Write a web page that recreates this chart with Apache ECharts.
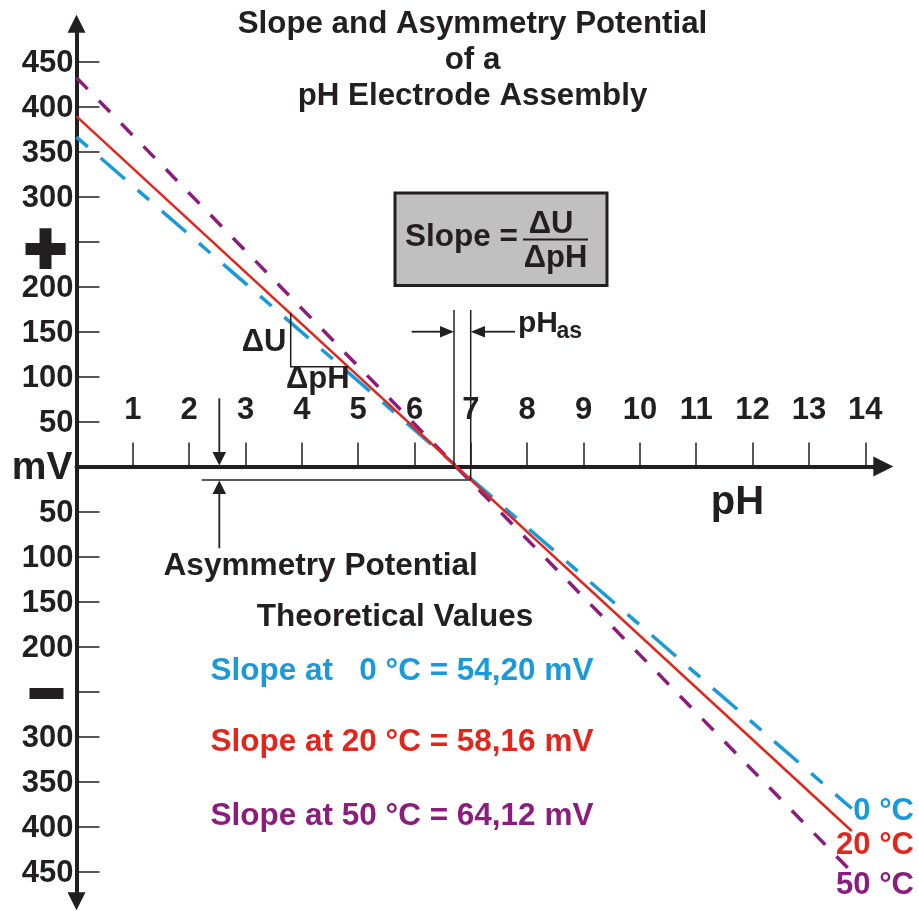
<!DOCTYPE html>
<html><head><meta charset="utf-8">
<script src="https://cdn.jsdelivr.net/npm/echarts@6/dist/echarts.min.js"></script>
<style>html,body{margin:0;padding:0;background:#fff}#c{width:919px;height:911px}</style>
</head><body><div id="c"></div>
<script>
// ---- data ----
const lineNames = ['0 °C', '20 °C', '50 °C'];
const ph0C = [0, 13.76];
const mv0C = [366, -380];
const ph20C = [0, 13.76];
const mv20C = [389, -405];
const ph50C = [0, 13.69];
const mv50C = [432, -446];
const phTicks = [1, 2, 3, 4, 5, 6, 7, 8, 9, 10, 11, 12, 13, 14];
const mvTicks = [-450, -400, -350, -300, -250, -200, -150, -100, -50, 0, 50, 100, 150, 200, 250, 300, 350, 400, 450];
const slopeTexts = ['Slope at   0 °C = 54,20 mV', 'Slope at 20 °C = 58,16 mV', 'Slope at 50 °C = 64,12 mV'];
const titleLines = ['Slope and Asymmetry Potential', 'of a', 'pH Electrode Assembly'];

const INK = '#231f20';
const BLUE = '#1a9ad8';
const RED = '#e2261c';
const PURPLE = '#8c1c7e';
const FF = '"Liberation Sans", Arial, sans-serif';

function zip(xs, ys) { return xs.map((x, i) => [x, ys[i]]); }

function txt(text, x, y, size, color, align) {
  return { type: 'text', x: x, y: y, silent: true, z: 10,
    style: { text: text, fontSize: size, fontWeight: 'bold', fontFamily: FF, fill: color || INK,
      align: align || 'left', verticalAlign: 'middle' } };
}
function seg(x1, y1, x2, y2, w) {
  return { type: 'line', silent: true, z: 10, shape: { x1, y1, x2, y2 }, style: { stroke: INK, lineWidth: w || 1.5 } };
}
function tri(points) {
  return { type: 'polygon', silent: true, z: 10, shape: { points }, style: { fill: INK } };
}

const chart = echarts.init(document.getElementById('c'), null, { renderer: 'canvas' });

// grid geometry (pixels): zero mV line sits at y = 466.5
const GRID_TOP = 23.7, GRID_BOTTOM = 9.8, ZERO_Y = 466.5, H = 911;

const option = {
  animation: false,
  backgroundColor: '#fff',
  grid: { left: 76.5, right: 35.7, top: GRID_TOP, bottom: GRID_BOTTOM, containLabel: false },
  xAxis: {
    type: 'value', min: 0, max: 14.32, position: 'bottom',
    offset: -((H - GRID_BOTTOM) - ZERO_Y),
    axisLine: { show: true, onZero: false, symbol: ['none', 'triangle'], symbolSize: [20, 20],
      lineStyle: { color: INK, width: 4 } },
    axisTick: { show: true, inside: true, length: 24, customValues: phTicks, lineStyle: { color: INK, width: 1.5 } },
    axisLabel: { show: true, inside: true, margin: 41, customValues: phTicks,
      fontSize: 31, fontWeight: 'bold', fontFamily: FF, color: INK, lineHeight: 31 },
    splitLine: { show: false }
  },
  yAxis: {
    type: 'value', min: -483, max: 492,
    axisLine: { show: true, onZero: true, symbol: ['triangle', 'triangle'], symbolSize: [18, 18],
      lineStyle: { color: INK, width: 4 } },
    axisTick: { show: true, inside: true, length: 23, customValues: mvTicks, lineStyle: { color: INK, width: 1.5 } },
    axisLabel: {
      show: true, margin: 3, customValues: mvTicks, padding: [4, 0, 0, 0],
      fontSize: 31, fontWeight: 'bold', fontFamily: FF, color: INK,
      formatter: function (v) {
        if (v === 0) return '{mv|mV}';
        if (v === 250) return '{plus|+}';
        if (v === -250) return '{minus| }{sp| }';
        return '{n|' + Math.abs(v) + '}';
      },
      rich: {
        n: { fontSize: 31, fontWeight: 'bold', fontFamily: FF, color: INK },
        mv: { fontSize: 39, fontWeight: 'bold', fontFamily: FF, color: INK, padding: [0, 1, 0, 0] },
        plus: { fontSize: 72, fontWeight: 'bold', fontFamily: FF, color: INK, textBorderColor: INK, textBorderWidth: 4,
          padding: [20, 7, 0, 0] },
        minus: { width: 34, height: 11, backgroundColor: INK, fontSize: 10 },
        sp: { width: 10, fontSize: 10 }
      }
    },
    splitLine: { show: false }
  },
  series: [
    { name: lineNames[2], type: 'line', data: zip(ph50C, mv50C), symbol: 'none', silent: true, z: 3,
      lineStyle: { color: PURPLE, width: 3.5, type: [16, 16], cap: 'butt' } },
    { name: lineNames[0], type: 'line', data: zip(ph0C, mv0C), symbol: 'none', silent: true, z: 4,
      lineStyle: { color: BLUE, width: 3.5, type: [15, 17, 32, 17], cap: 'butt' } },
    { name: lineNames[1], type: 'line', data: zip(ph20C, mv20C), symbol: 'none', silent: true, z: 5,
      lineStyle: { color: RED, width: 2.5, type: 'solid' } }
  ],
  graphic: { elements: [
    // title
    txt(titleLines[0], 472.5, 24.5, 31.3, INK, 'center'),
    txt(titleLines[1], 472.5, 60.5, 31.3, INK, 'center'),
    txt(titleLines[2], 472.5, 96.5, 31.3, INK, 'center'),
    // slope formula box
    { type: 'rect', silent: true, z: 9, shape: { x: 395, y: 193, width: 212, height: 92.5 },
      style: { fill: '#c0c0c0', stroke: INK, lineWidth: 3 } },
    txt('Slope =', 405, 237, 31.5),
    txt('\u0394U', 551, 224.5, 31, INK, 'center'),
    seg(523, 239.5, 588, 239.5, 2),
    txt('\u0394pH', 555.5, 258.5, 31, INK, 'center'),
    // delta triangle
    { type: 'polyline', silent: true, z: 10, shape: { points: [[290.7, 313], [290.7, 366.7], [348.3, 366.7]] },
      style: { stroke: INK, lineWidth: 1.5, fill: null } },
    txt('\u0394U', 286.5, 342.5, 31, INK, 'right'),
    txt('\u0394pH', 286, 379, 31),
    // pH_as
    seg(454, 310, 454, 466.5),
    seg(470.7, 310, 470.7, 479.5),
    seg(411.7, 331.7, 441, 331.7, 1.8),
    tri([[440, 326], [454, 331.7], [440, 337.4]]),
    seg(484, 331.7, 515, 331.7, 1.8),
    tri([[485, 326], [470.7, 331.7], [485, 337.4]]),
    txt('pH', 518, 324, 30),
    txt('as', 556.5, 331.5, 23),
    // asymmetry potential
    seg(201.7, 480, 470.7, 480),
    seg(219.3, 398.3, 219.3, 453, 1.8),
    tri([[212.5, 452], [219.3, 465.5], [226.1, 452]]),
    seg(219.3, 493, 219.3, 548.3, 1.8),
    tri([[212.5, 494], [219.3, 480.5], [226.1, 494]]),
    txt('Asymmetry Potential', 163.5, 566, 31.6),
    // axis name pH
    txt('pH', 737.5, 503, 40, INK, 'center'),
    // legend texts
    txt('Theoretical Values', 395, 617, 31.5, INK, 'center'),
    txt(slopeTexts[0], 210.5, 671, 31.5, BLUE),
    txt(slopeTexts[1], 210.5, 742.5, 31.5, RED),
    txt(slopeTexts[2], 210.5, 816, 31.5, PURPLE),
    // end labels
    txt(lineNames[0], 914, 811.5, 31, BLUE, 'right'),
    txt(lineNames[1], 914, 845, 31, RED, 'right'),
    txt(lineNames[2], 914, 885, 31, PURPLE, 'right')
  ] }
};
chart.setOption(option);
</script>
</body></html>
